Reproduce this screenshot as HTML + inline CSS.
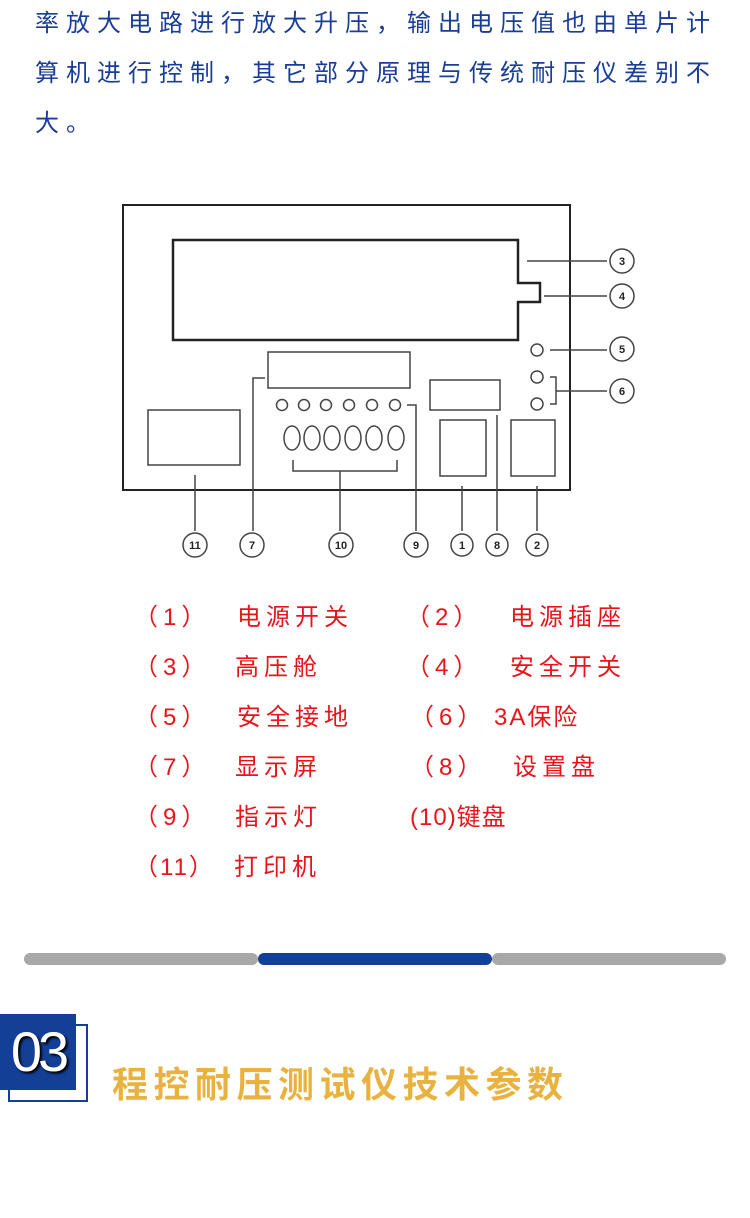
<!DOCTYPE html>
<html><head><meta charset="utf-8"><style>
body{margin:0;width:750px;height:1218px;background:#fff;position:relative;overflow:hidden;font-family:"Liberation Sans","Noto Sans CJK SC",sans-serif}
.p{position:absolute;left:35px;color:#1a3d96;font-size:24px;letter-spacing:7px;white-space:nowrap;line-height:30px}
.r{position:absolute;color:#e8141c;font-size:24px;white-space:nowrap;line-height:30px;letter-spacing:5px}
</style></head><body>
<div class="p" style="top:9px">率放大电路进行放大升压，输出电压值也由单片计</div>
<div class="p" style="top:59px">算机进行控制，其它部分原理与传统耐压仪差别不</div>
<div class="p" style="top:109px">大。</div>

<svg style="position:absolute;left:0;top:0" width="750" height="600" font-family="Liberation Sans" font-size="11" font-weight="bold" text-anchor="middle">
<g fill="none" stroke="#222" stroke-width="2">
<rect x="123" y="205" width="447" height="285"/>
<path d="M173 240 H518 V283 H540 V302 H518 V340 H173 Z" stroke-width="2.5"/>
</g>
<g fill="none" stroke="#444" stroke-width="1.5">
<rect x="268" y="352" width="142" height="36"/>
<rect x="430" y="380" width="70" height="30"/>
<rect x="440" y="420" width="46" height="56"/>
<rect x="511" y="420" width="44" height="56"/>
<rect x="148" y="410" width="92" height="55"/>
<circle cx="282" cy="405" r="5.5"/><circle cx="304" cy="405" r="5.5"/><circle cx="326" cy="405" r="5.5"/><circle cx="349" cy="405" r="5.5"/><circle cx="372" cy="405" r="5.5"/><circle cx="395" cy="405" r="5.5"/>
<ellipse cx="292" cy="438" rx="8" ry="12"/><ellipse cx="312" cy="438" rx="8" ry="12"/><ellipse cx="332" cy="438" rx="8" ry="12"/><ellipse cx="353" cy="438" rx="8" ry="12"/><ellipse cx="374" cy="438" rx="8" ry="12"/><ellipse cx="396" cy="438" rx="8" ry="12"/>
<circle cx="537" cy="350" r="6"/><circle cx="537" cy="377" r="6"/><circle cx="537" cy="404" r="6"/>
<path d="M527 261 H607 M544 296 H607 M550 350 H607 M550 377 H556 V404 H550 M556 391 H607"/>
<path d="M293 460 V471 H397 V460 M340 471 V531"/>
<path d="M265 378 H253 V531 M407 405 H416 V531 M462 486 V531 M497 415 V531 M537 486 V531 M195 475 V531" />
<circle cx="622" cy="261" r="12"/><circle cx="622" cy="296" r="12"/><circle cx="622" cy="349" r="12"/><circle cx="622" cy="391" r="12"/>
<circle cx="195" cy="545" r="12"/><circle cx="252" cy="545" r="12"/><circle cx="341" cy="545" r="12"/><circle cx="416" cy="545" r="12"/><circle cx="462" cy="545" r="11"/><circle cx="497" cy="545" r="11"/><circle cx="537" cy="545" r="11"/>
</g>
<g fill="#222">
<text x="622" y="265">3</text><text x="622" y="300">4</text><text x="622" y="353">5</text><text x="622" y="395">6</text>
<text x="195" y="549">11</text><text x="252" y="549">7</text><text x="341" y="549">10</text><text x="416" y="549">9</text><text x="462" y="549">1</text><text x="497" y="549">8</text><text x="537" y="549">2</text>
</g>
</svg>

<div class="r" style="left:134px;top:603px">（1）</div><div class="r" style="left:237px;top:603px">电源开关</div>
<div class="r" style="left:406px;top:603px">（2）</div><div class="r" style="left:510px;top:603px">电源插座</div>
<div class="r" style="left:134px;top:653px">（3）</div><div class="r" style="left:235px;top:653px">高压舱</div>
<div class="r" style="left:406px;top:653px">（4）</div><div class="r" style="left:510px;top:653px">安全开关</div>
<div class="r" style="left:134px;top:703px">（5）</div><div class="r" style="left:237px;top:703px">安全接地</div>
<div class="r" style="left:410px;top:703px">（6）</div><div class="r" style="left:494px;top:703px;letter-spacing:2px">3A保险</div>
<div class="r" style="left:134px;top:753px">（7）</div><div class="r" style="left:235px;top:753px">显示屏</div>
<div class="r" style="left:410px;top:753px">（8）</div><div class="r" style="left:513px;top:753px">设置盘</div>
<div class="r" style="left:134px;top:803px">（9）</div><div class="r" style="left:235px;top:803px">指示灯</div>
<div class="r" style="left:410px;top:803px;letter-spacing:1px">(10)键盘</div>
<div class="r" style="left:134px;top:853px;letter-spacing:2px">（11）</div><div class="r" style="left:234px;top:853px">打印机</div>

<div style="position:absolute;left:24px;top:953px;width:234px;height:12px;border-radius:6px;background:#a8a8a8"></div>
<div style="position:absolute;left:258px;top:953px;width:234px;height:12px;border-radius:6px;background:#143f96"></div>
<div style="position:absolute;left:492px;top:953px;width:234px;height:12px;border-radius:6px;background:#a8a8a8"></div>

<div style="position:absolute;left:8px;top:1024px;width:76px;height:74px;border:2px solid #143f96;background:#fff"></div>
<div style="position:absolute;left:0;top:1014px;width:76px;height:76px;background:#143f96;color:#fff;font-size:56px;line-height:76px;text-align:center;letter-spacing:-4px;text-shadow:2px 2px 2px #000">03</div>
<div style="position:absolute;left:112px;top:1060px;color:#e9b23f;font-size:36px;font-weight:bold;letter-spacing:5.5px;line-height:44px;white-space:nowrap;font-family:'Noto Sans CJK SC',sans-serif">程控耐压测试仪技术参数</div>
</body></html>
